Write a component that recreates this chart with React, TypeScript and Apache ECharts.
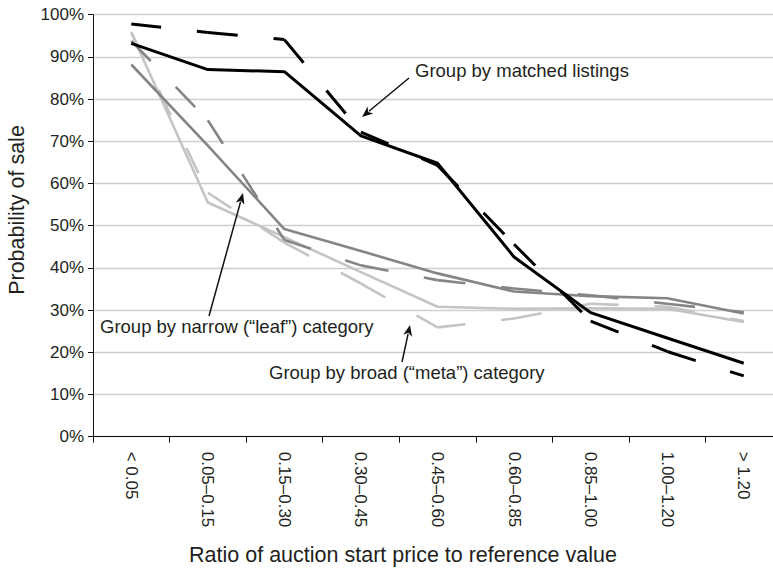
import React, { useEffect, useRef } from 'react';
import * as echarts from 'echarts';

const categories = ['< 0.05', '0.05–0.15', '0.15–0.30', '0.30–0.45', '0.45–0.60', '0.60–0.85', '0.85–1.00', '1.00–1.20', '> 1.20'];

// Probability of sale (%)
const matchedSolid = [93.2, 87.0, 86.5, 71.3, 64.8, 42.6, 29.4, 23.4, 17.4];
const matchedDashed = [97.8, 95.8, 94.1, 72.2, 64.3, 45.6, 27.4, 20.2, 14.4];
const leafSolid = [88.2, 69.0, 49.2, 44.0, 38.7, 34.4, 33.3, 32.8, 29.2];
const leafDashed = [93.8, 75.0, 46.6, 40.6, 37.1, 35.1, 33.5, 31.5, 29.5];
const metaSolid = [95.8, 55.5, 47.3, 39.0, 30.8, 30.3, 30.4, 30.3, 27.2];
const metaDashed = [95.8, 57.8, 46.0, 36.3, 25.9, 28.0, 31.5, 30.8, 27.4];

const FONT = '"Liberation Sans", Arial, Helvetica, sans-serif';
const TEXT = '#231f20';

function solidSeries(name: string, values: number[], color: string, width: number, z: number) {
  return {
    name,
    type: 'line',
    data: values,
    symbol: 'none',
    silent: true,
    z,
    lineStyle: { color, width, type: 'solid', join: 'round' },
  };
}

// Dash pattern restarts at every point, as in the original
function dashedSeries(name: string, values: number[], color: string, width: number, dash: number[], z: number) {
  const out: any[] = [];
  for (let i = 0; i < values.length - 1; i++) {
    out.push({
      name,
      type: 'line',
      data: values.map((v, j) => (j === i || j === i + 1 ? v : '-')),
      symbol: 'none',
      silent: true,
      connectNulls: false,
      z,
      lineStyle: { color, width, type: dash, cap: 'butt' },
    });
  }
  return out;
}

function arrow(x1: number, y1: number, x2: number, y2: number) {
  const dx = x2 - x1;
  const dy = y2 - y1;
  const len = Math.sqrt(dx * dx + dy * dy);
  const ux = dx / len;
  const uy = dy / len;
  const hl = 11;
  const hw = 4.5;
  const bx = x2 - ux * hl;
  const by = y2 - uy * hl;
  return [
    {
      type: 'line',
      shape: { x1, y1, x2: bx + ux * 2, y2: by + uy * 2 },
      style: { stroke: '#111', lineWidth: 1.5 },
      z: 100,
    },
    {
      type: 'polygon',
      shape: {
        points: [
          [x2, y2],
          [bx - uy * hw, by + ux * hw],
          [bx + ux * 3, by + uy * 3],
          [bx + uy * hw, by - ux * hw],
        ],
      },
      style: { fill: '#111' },
      z: 100,
    },
  ];
}

function label(text: string, left: number, top: number) {
  return {
    type: 'text',
    left,
    top,
    z: 100,
    style: { text, fill: TEXT, fontSize: 18.5, fontFamily: FONT },
  };
}

export default function App() {
  const ref = useRef<HTMLDivElement>(null);

  useEffect(() => {
    if (!ref.current) return;
    const chart = echarts.init(ref.current, null, { renderer: 'svg' });
    const option: any = {
      animation: false,
      backgroundColor: '#ffffff',
      grid: { left: 93, top: 14.7, width: 689, height: 422, containLabel: false },
      xAxis: {
        type: 'category',
        data: categories,
        boundaryGap: true,
        axisLine: { show: true, lineStyle: { color: '#111', width: 1 } },
        axisTick: { show: true, alignWithLabel: false, length: 6, lineStyle: { color: '#111' } },
        axisLabel: {
          rotate: -90,
          margin: 15,
          fontSize: 17,
          fontFamily: FONT,
          color: TEXT,
          interval: 0,
        },
        splitLine: { show: false },
      },
      yAxis: {
        type: 'value',
        min: 0,
        max: 100,
        interval: 10,
        axisLine: { show: true, lineStyle: { color: '#111', width: 1 } },
        axisTick: { show: true, length: 5, lineStyle: { color: '#111' } },
        axisLabel: {
          formatter: '{value}%',
          margin: 9,
          fontSize: 17,
          fontFamily: FONT,
          color: TEXT,
        },
        splitLine: { show: true, lineStyle: { color: '#cfcfcf', width: 1.3 } },
      },
      series: [
        solidSeries('Meta', metaSolid, '#c4c4c4', 2.6, 2),
        ...dashedSeries('Meta (dashed)', metaDashed, '#c4c4c4', 2.6, [28, 36], 2),
        solidSeries('Leaf', leafSolid, '#858585', 2.6, 3),
        ...dashedSeries('Leaf (dashed)', leafDashed, '#858585', 2.6, [28, 36], 3),
        solidSeries('Matched', matchedSolid, '#000000', 3, 4),
        ...dashedSeries('Matched (dashed)', matchedDashed, '#000000', 3, [30, 36], 4),
      ],
      graphic: [
        {
          type: 'text',
          x: 17,
          y: 210,
          rotation: Math.PI / 2,
          z: 100,
          style: {
            text: 'Probability of sale',
            fill: TEXT,
            fontSize: 21.5,
            fontFamily: FONT,
            align: 'center',
            verticalAlign: 'middle',
          },
        },
        {
          type: 'text',
          x: 403,
          y: 555,
          z: 100,
          style: {
            text: 'Ratio of auction start price to reference value',
            fill: TEXT,
            fontSize: 21.5,
            fontFamily: FONT,
            align: 'center',
            verticalAlign: 'middle',
          },
        },
        label('Group by matched listings', 415, 61),
        label('Group by narrow (\u201cleaf\u201d) category', 100, 317),
        label('Group by broad (\u201cmeta\u201d) category', 269, 363),
        ...arrow(409, 78, 362, 117),
        ...arrow(209, 316, 243, 193),
        ...arrow(402, 362, 410, 325),
      ],
    };
    chart.setOption(option);
    return () => chart.dispose();
  }, []);

  return (
    <div style={{ position: 'fixed', left: 0, top: 0, width: 773, height: 570, overflow: 'hidden', background: '#fff' }}>
      <div ref={ref} style={{ width: 800, height: 570 }} />
    </div>
  );
}
